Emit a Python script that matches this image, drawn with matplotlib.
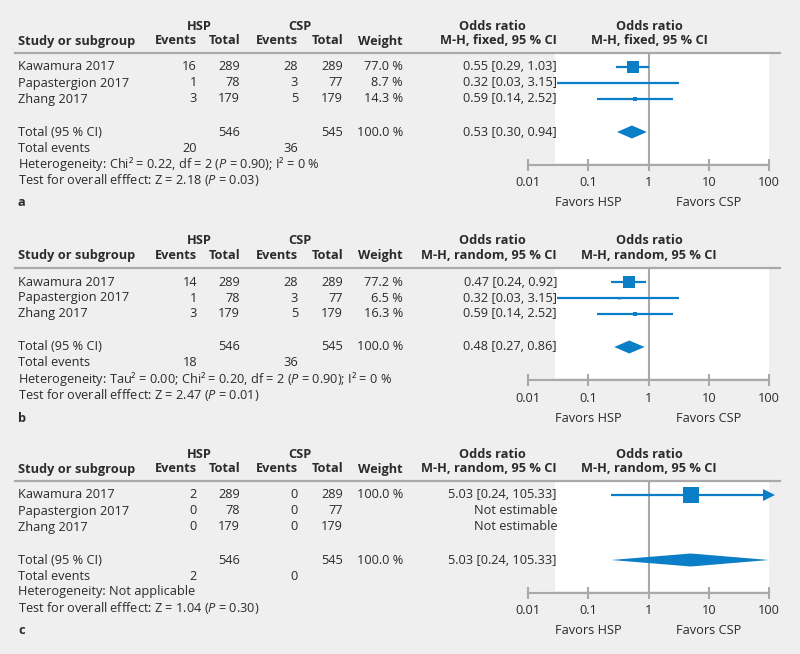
#!/usr/bin/env python3
import matplotlib
matplotlib.use('Agg')
import matplotlib.pyplot as plt
from matplotlib.lines import Line2D

plt.rcParams['font.family'] = ['Open Sans', 'DejaVu Sans']
plt.rcParams['mathtext.fontset'] = 'custom'
plt.rcParams['mathtext.rm'] = 'Open Sans'
plt.rcParams['mathtext.it'] = 'Open Sans:italic'

W, H = 800, 654
BLUE = '#0a7ec6'
GREY = '#a9a9a9'
TXT = '#2b2b2b'
BG = '#efefef'
FS = 9.2

studies = ['Kawamura 2017', 'Papastergion 2017', 'Zhang 2017']
hsp_total = [289, 78, 179]
csp_total = [289, 77, 179]
sum_hsp_total = 546
sum_csp_total = 545

# panel a: fixed effect
a_hsp_events = [16, 1, 3]
a_csp_events = [28, 3, 5]
a_weight = [77.0, 8.7, 14.3]
a_or = [0.55, 0.32, 0.59]
a_lo = [0.29, 0.03, 0.14]
a_hi = [1.03, 3.15, 2.52]
a_total = [0.53, 0.30, 0.94]
a_events = [20, 36]
a_het = 'Heterogeneity: Chi² = 0.22, df = 2 ($\\it{P}$ = 0.90); I² = 0 %'
a_test = 'Test for overall efffect: Z = 2.18 ($\\it{P}$ = 0.03)'

# panel b: random effects
b_hsp_events = [14, 1, 3]
b_csp_events = [28, 3, 5]
b_weight = [77.2, 6.5, 16.3]
b_or = [0.47, 0.32, 0.59]
b_lo = [0.24, 0.03, 0.14]
b_hi = [0.92, 3.15, 2.52]
b_total = [0.48, 0.27, 0.86]
b_events = [18, 36]
b_het = 'Heterogeneity: Tau² = 0.00; Chi² = 0.20, df = 2 ($\\it{P}$ = 0.90); I² = 0 %'
b_test = 'Test for overall efffect: Z = 2.47 ($\\it{P}$ = 0.01)'

# panel c: random effects, only one estimable study
c_hsp_events = [2, 0, 0]
c_csp_events = [0, 0, 0]
c_weight = [100.0, None, None]
c_or = [5.03, None, None]
c_lo = [0.24, None, None]
c_hi = [105.33, None, None]
c_total = [5.03, 0.24, 105.33]
c_events = [2, 0]
c_het = 'Heterogeneity: Not applicable'
c_test = 'Test for overall efffect: Z = 1.04 ($\\it{P}$ = 0.30)'

ticks = [0.01, 0.1, 1, 10, 100]
tick_labels = ['0.01', '0.1', '1', '10', '100']

fig = plt.figure(figsize=(W / 100, H / 100), dpi=100, facecolor=BG)


def ftext(x, y, s, ha='left', bold=False):
    fig.text(x / W, 1 - y / H, s, ha=ha, va='center', fontsize=FS,
             color=TXT, fontweight='bold' if bold else 'normal')


def panel(line_y, letter, method, hsp_ev, csp_ev, weight, orv, lo, hi,
          total, events, het, test):
    # header
    ftext(199, line_y - 27, 'HSP', 'center', True)
    ftext(300, line_y - 27, 'CSP', 'center', True)
    ftext(492, line_y - 27, 'Odds ratio', 'center', True)
    ftext(649, line_y - 27, 'Odds ratio', 'center', True)
    ftext(18, line_y - 12, 'Study or subgroup', bold=True)
    ftext(197, line_y - 12, 'Events', 'right', True)
    ftext(240, line_y - 12, 'Total', 'right', True)
    ftext(298, line_y - 12, 'Events', 'right', True)
    ftext(343, line_y - 12, 'Total', 'right', True)
    ftext(403, line_y - 12, 'Weight', 'right', True)
    ftext(557, line_y - 12, 'M-H, %s, 95 %% CI' % method, 'right', True)
    ftext(649, line_y - 12, 'M-H, %s, 95 %% CI' % method, 'center', True)

    # forest axes, y in pixel offsets below the header rule
    ax = fig.add_axes([528 / W, 1 - (line_y + 112) / H, 241 / W, 112 / H])
    ax.set_facecolor('none')
    ax.set_xscale('log')
    ax.set_xlim(0.01, 100)
    ax.set_ylim(112, 0)
    ax.axvspan(0.028, 100, ymin=0.02, ymax=1, color='white', zorder=0, lw=0)
    ax.axvline(1, color=GREY, lw=1.5, zorder=1)
    for s in ['top', 'left', 'right']:
        ax.spines[s].set_visible(False)
    ax.spines['bottom'].set_color(GREY)
    ax.spines['bottom'].set_linewidth(1.5)
    ax.set_yticks([])
    ax.set_xticks(ticks)
    ax.xaxis.set_minor_locator(matplotlib.ticker.NullLocator())
    ax.set_xticklabels([])
    ax.tick_params(axis='x', direction='inout', length=9, width=1.5,
                   color=GREY)
    for t, lab in zip(ticks, tick_labels):
        ax.text(t, 130, lab, ha='center', va='center', fontsize=FS, color=TXT)
    ax.text(0.1, 150, 'Favors HSP', ha='center', va='center', fontsize=FS, color=TXT)
    ax.text(10, 150, 'Favors CSP', ha='center', va='center', fontsize=FS, color=TXT)

    rows = [line_y + 14, line_y + 30, line_y + 46]
    for i, y in enumerate(rows):
        ftext(18, y, studies[i])
        ftext(197, y, str(hsp_ev[i]), 'right')
        ftext(240, y, str(hsp_total[i]), 'right')
        ftext(298, y, str(csp_ev[i]), 'right')
        ftext(343, y, str(csp_total[i]), 'right')
        if weight[i] is None:
            ftext(557, y, 'Not estimable', 'right')
            continue
        ftext(403, y, '%.1f %%' % weight[i], 'right')
        ftext(557, y, '%.2f [%.2f, %.2f]' % (orv[i], lo[i], hi[i]), 'right')
        yy = y - line_y
        right = min(hi[i], 100)
        ax.plot([lo[i], right], [yy, yy], color=BLUE, lw=1.6, zorder=3,
                solid_capstyle='butt', clip_on=False)
        side = 15.5 * (weight[i] / 100) ** 0.75
        ax.plot([orv[i]], [yy], marker='s', ms=side * 0.72, color=BLUE,
                mec=BLUE, mew=0, zorder=4, clip_on=False)
        if hi[i] > 100:
            ax.plot([100], [yy], marker='>', ms=9, color=BLUE, mew=0,
                    zorder=4, clip_on=False)

    ty = line_y + 79
    ftext(18, ty, 'Total (95 % CI)')
    ftext(240, ty, str(sum_hsp_total), 'right')
    ftext(343, ty, str(sum_csp_total), 'right')
    ftext(403, ty, '100.0 %', 'right')
    ftext(557, ty, '%.2f [%.2f, %.2f]' % tuple(total), 'right')
    est, tlo, thi = total
    thi = min(thi, 100)
    ax.fill([tlo, est, thi, est], [ty - line_y, ty - line_y - 6.5,
                                   ty - line_y, ty - line_y + 6.5],
            color=BLUE, lw=0, zorder=4, clip_on=False)

    ftext(18, line_y + 95, 'Total events')
    ftext(197, line_y + 95, str(events[0]), 'right')
    ftext(298, line_y + 95, str(events[1]), 'right')
    ftext(18, line_y + 111, het)
    ftext(18, line_y + 127, test)
    ftext(18, line_y + 150, letter, bold=True)

    # header rule drawn on top
    fig.add_artist(Line2D([15 / W, 780 / W], [1 - line_y / H] * 2,
                          color=GREY, lw=1.6, zorder=10))


panel(53, 'a', 'fixed', a_hsp_events, a_csp_events, a_weight, a_or, a_lo,
      a_hi, a_total, a_events, a_het, a_test)
panel(268, 'b', 'random', b_hsp_events, b_csp_events, b_weight, b_or, b_lo,
      b_hi, b_total, b_events, b_het, b_test)
panel(481, 'c', 'random', c_hsp_events, c_csp_events, c_weight, c_or, c_lo,
      c_hi, c_total, c_events, c_het, c_test)

fig.savefig('out.png', dpi=100, facecolor=BG)
